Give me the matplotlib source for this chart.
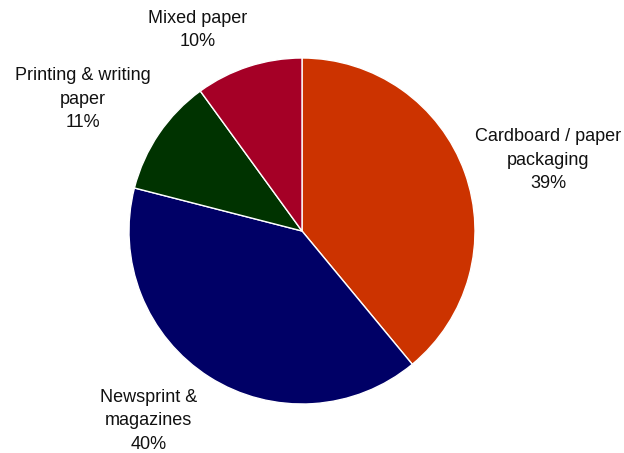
import matplotlib
matplotlib.use('Agg')
import matplotlib.pyplot as plt
import numpy as np

# 纸类构成
labels = ['Cardboard / paper\npackaging', 'Newsprint &\nmagazines',
          'Printing & writing\npaper', 'Mixed paper']
shares = [39, 40, 11, 10]
colors = ['#CC3300', '#000066', '#003300', '#A50026']

# 标签位置：角度（度）和到圆心的距离（半径倍数）
label_angles = [16, -129, 149, 117.5]
label_dists = [1.48, 1.41, 1.48, 1.31]

plt.rcParams['font.family'] = ['Liberation Sans', 'DejaVu Sans']

fig = plt.figure(figsize=(6.24, 4.53), dpi=100)
# 饼图中心约在 (302, 222) 像素，半径 173 像素
ax = fig.add_axes([(302 - 173) / 624, (222 - 173) / 453, 346 / 624, 346 / 453])

wedges, _ = ax.pie(
    shares,
    colors=colors,
    startangle=90,
    counterclock=False,
    wedgeprops={'edgecolor': 'white', 'linewidth': 1},
)

for lab, s, ang, d in zip(labels, shares, label_angles, label_dists):
    a = np.deg2rad(ang)
    ax.text(d * np.cos(a), d * np.sin(a), f'{lab}\n{s}%',
            ha='center', va='center', fontsize=13, color='#111111',
            linespacing=1.5)

ax.set_xlim(-1, 1)
ax.set_ylim(-1, 1)
ax.set_aspect('equal')

plt.savefig('out.png', dpi=100)
